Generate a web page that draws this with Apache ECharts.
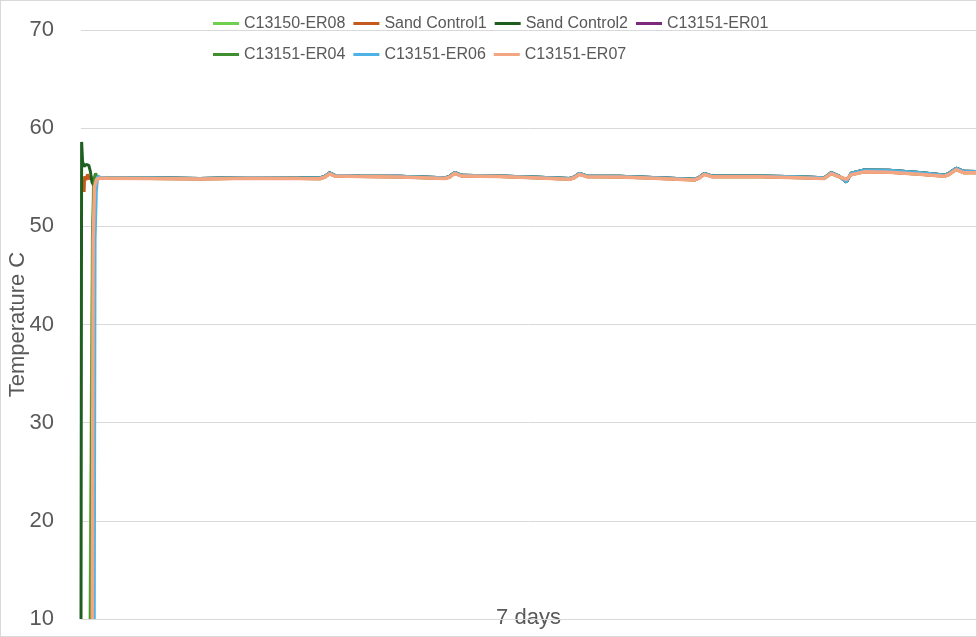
<!DOCTYPE html>
<html>
<head>
<meta charset="utf-8">
<title>Temperature C</title>
<script src="https://cdn.jsdelivr.net/npm/echarts@6/dist/echarts.min.js"></script>
<style>
  html, body { margin: 0; padding: 0; background: #fff; }
  /* outer frame of the picture */
  #frame { width: 977px; height: 637px; box-sizing: border-box; border: 1px solid #d9d9d9; }
  #chart { width: 975px; height: 635px; }
</style>
</head>
<body>
<div id="frame"><div id="chart"></div></div>
<script>
// Hours since start, shared by the steady-state part of every series
const plateauHours = [4.6, 13.2, 22.8, 32.4, 42.0, 45.9, 46.8, 47.8, 48.8, 53.6,
  61.2, 67.0, 69.9, 70.8, 71.8, 73.2, 80.4, 88.1, 93.9, 94.8,
  95.8, 97.2, 103.5, 111.2, 117.9, 118.8, 119.8, 121.2, 130.4, 138.0,
  142.8, 144.2, 145.7, 147.1, 148.0, 150.5, 155.3, 161.1, 165.9, 166.8,
  168.2, 169.7, 172.0]

// Slightly lower band (ER07, Sand Control1, ER08)
const coolPlateau = [54.90, 54.88, 54.82, 54.90, 54.86, 54.85, 55.00, 55.35, 55.12, 55.07,
  55.02, 54.92, 54.87, 55.00, 55.40, 55.12, 55.07, 54.92, 54.80, 54.95,
  55.30, 55.06, 55.02, 54.88, 54.72, 54.92, 55.30, 55.06, 55.05, 54.96,
  54.86, 55.38, 55.05, 54.78, 55.25, 55.55, 55.50, 55.30, 55.10, 55.28,
  55.78, 55.45, 55.45]

// Slightly higher band (ER06, ER04, ER01, Sand Control2)
const warmPlateau = [54.97, 54.95, 54.88, 54.97, 54.93, 54.92, 55.08, 55.45, 55.20, 55.14,
  55.09, 54.99, 54.94, 55.08, 55.50, 55.20, 55.14, 54.99, 54.87, 55.02,
  55.40, 55.14, 55.09, 54.95, 54.79, 55.00, 55.40, 55.14, 55.13, 55.05,
  54.94, 55.48, 55.12, 54.52, 55.40, 55.75, 55.72, 55.48, 55.22, 55.40,
  55.92, 55.60, 55.58]

// Start-up of each probe: [hour, temperature]
const er08Start = [[1.73, 10], [2.17, 48.6], [2.4, 54.3], [2.75, 55.1], [3.3, 54.9]]
const sc1Start = [[0.6, 53.5], [0.7, 55.1], [0.95, 54.7], [1.25, 55.3], [1.55, 54.8],
  [1.9, 55.1], [2.3, 54.5], [2.9, 54.8], [3.6, 54.9]]
const sc2Start = [[0, 10], [0.12, 58.6], [0.3, 56.6], [0.6, 56.1], [1.0, 56.3], [1.5, 56.2],
  [1.8, 55.6], [2.1, 54.5], [2.4, 54.2], [2.75, 55.3], [3.1, 54.9], [3.8, 54.9]]
const er01Start = [[2.1, 10], [2.3, 49], [2.55, 54.2], [2.9, 54.9], [3.5, 54.95]]
const er04Start = [[1.85, 10], [2.25, 49], [2.5, 54.4], [2.8, 55.4], [3.2, 54.9], [3.8, 54.95]]
const er06Start = [[2.55, 10], [2.7, 48.6], [2.95, 53.6], [3.2, 55.1], [3.7, 55.0]]
const er07Start = [[2.17, 10], [2.34, 48.6], [2.6, 54.0], [3.0, 54.8], [3.6, 54.9]]

const yTicks = [10, 20, 30, 40, 50, 60, 70]

const withPlateau = (start, band) =>
  start.concat(plateauHours.map((h, i) => [h, band[i]]))

const probes = [
  { name: 'C13150-ER08', color: '#6fcf4f', data: withPlateau(er08Start, coolPlateau) },
  { name: 'Sand Control1', color: '#c65a1e', data: withPlateau(sc1Start, coolPlateau) },
  { name: 'Sand Control2', color: '#1e5f20', data: withPlateau(sc2Start, warmPlateau) },
  { name: 'C13151-ER01', color: '#7b2a7e', data: withPlateau(er01Start, warmPlateau) },
  { name: 'C13151-ER04', color: '#3f8f2f', data: withPlateau(er04Start, warmPlateau) },
  { name: 'C13151-ER06', color: '#4db3e6', data: withPlateau(er06Start, warmPlateau) },
  { name: 'C13151-ER07', color: '#f4a582', data: withPlateau(er07Start, coolPlateau) },
]

const font = '"Liberation Sans", Arial, sans-serif'
const chart = echarts.init(document.getElementById('chart'), null, { renderer: 'canvas' })

chart.setOption({
  animation: false,
  color: probes.map((p) => p.color),
  textStyle: { fontFamily: font },
  // fixed plot box, labels are allowed outside of it
  grid: { left: 80, right: 0, top: 29, height: 589, containLabel: false, outerBoundsMode: 'none' },
  legend: {
    left: 212,
    top: 11,
    padding: 0,
    width: 570,
    icon: 'rect',
    itemWidth: 26,
    itemHeight: 3,
    itemGap: 8,
    textStyle: { fontSize: 16, color: '#595959', lineHeight: 23, fontFamily: font },
    data: probes.map((p) => p.name),
  },
  xAxis: {
    type: 'value',
    min: 0,
    max: 172,
    name: '7 days',
    nameLocation: 'middle',
    nameGap: -12,
    nameMoveOverlap: false,
    nameTextStyle: { fontSize: 22, color: '#595959', verticalAlign: 'top' },
    axisLine: { show: true, lineStyle: { color: '#d9d9d9', width: 1 } },
    axisTick: { show: false },
    axisLabel: { show: false },
    splitLine: { show: false },
  },
  yAxis: {
    type: 'value',
    min: yTicks[0],
    max: yTicks[yTicks.length - 1],
    interval: 10,
    name: 'Temperature C',
    nameLocation: 'middle',
    nameGap: 52,
    nameMoveOverlap: false,
    nameTextStyle: { fontSize: 22, color: '#595959' },
    axisLine: { show: false },
    axisTick: { show: false },
    axisLabel: { fontSize: 22, color: '#595959', margin: 27 },
    splitLine: { lineStyle: { color: '#d9d9d9', width: 1 } },
  },
  series: probes.map((p) => ({
    type: 'line',
    name: p.name,
    data: p.data,
    showSymbol: false,
    symbol: 'none',
    lineStyle: { width: p.name === 'C13151-ER07' ? 3.5 : 3 },
    clip: true,
  })),
})
</script>
</body>
</html>
